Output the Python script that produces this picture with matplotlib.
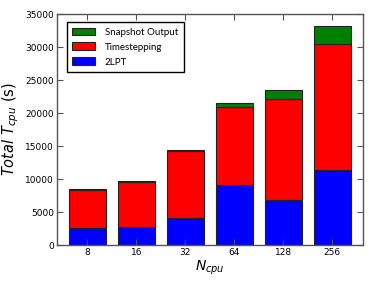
# -*- coding: utf-8 -*-

import numpy as np
import matplotlib
matplotlib.use('Agg')
import matplotlib.pyplot as plt

# Stacked CPU time per component for each core count.
ncpu = ['8', '16', '32', '64', '128', '256']
t_2lpt = [2530, 2680, 4040, 9050, 6770, 11410]
t_step = [5760, 6910, 10160, 11860, 15300, 18990]
t_snap = [150, 150, 190, 650, 1410, 2780]

plt.rcParams['font.family'] = ['DejaVu Sans']
plt.rcParams['mathtext.fontset'] = 'dejavusans'

fig = plt.figure(figsize=(3.74, 2.82), dpi=100)
ax = fig.add_axes([0.152, 0.131, 0.818, 0.819])

x = np.arange(len(ncpu))
base = np.array(t_2lpt)
top = base + np.array(t_step)

b1 = ax.bar(x, t_2lpt, width=0.75, color='blue', edgecolor='#222222',
    linewidth=0.8, label='2LPT')
b2 = ax.bar(x, t_step, width=0.75, bottom=base, color='red',
    edgecolor='#222222', linewidth=0.8, label='Timestepping')
b3 = ax.bar(x, t_snap, width=0.75, bottom=top, color='green',
    edgecolor='#222222', linewidth=0.8, label='Snapshot Output')

ax.set_xlim(-0.62, 5.62)
ax.set_ylim(0, 35000)
ax.set_xticks(x)
ax.set_xticklabels(ncpu)
ax.set_yticks(np.arange(0, 35001, 5000))
ax.tick_params(direction='in', top=True, right=True, labelsize=6.5,
    length=4, width=0.8, color='#555555', pad=2)
for s in ax.spines.values():
    s.set_color('#555555')
    s.set_linewidth(1.0)

ax.set_xlabel(r'$N_{cpu}$', fontsize=10, labelpad=1)
ax.set_ylabel(r'$Total\ T_{cpu}$ (s)', fontsize=10.5, labelpad=3)

# Legend in reversed stacking order, inset from the corner.
ax.legend(handles=[b3, b2, b1], loc='upper left',
    bbox_to_anchor=(0.032, 0.967), borderaxespad=0,
    prop={'family': 'Lato', 'size': 7},
    fancybox=False, edgecolor='black', framealpha=1,
    handlelength=2.3, handleheight=0.8, handletextpad=1.0,
    borderpad=0.6, labelspacing=0.6)

fig.savefig('out.png', dpi=100)
